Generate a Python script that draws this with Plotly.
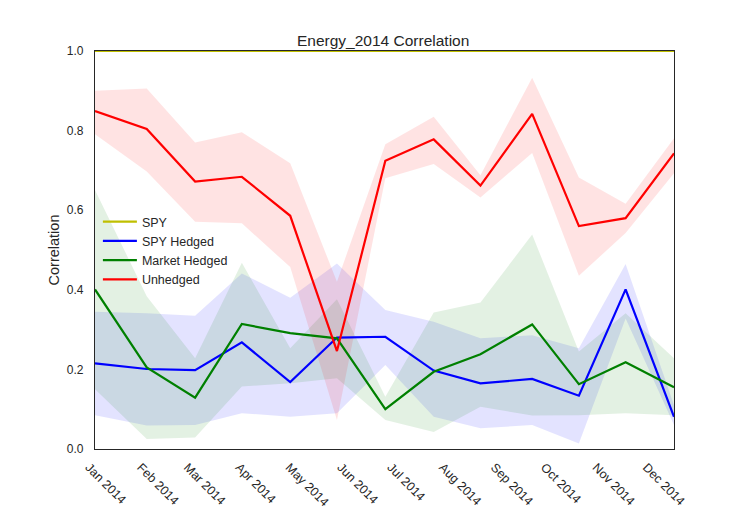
import plotly.graph_objects as go

# window end dates
dates = ['2013-12-26', '2014-01-26', '2014-02-24', '2014-03-24', '2014-04-22',
         '2014-05-20', '2014-06-18', '2014-07-17', '2014-08-14', '2014-09-14',
         '2014-10-12', '2014-11-09', '2014-12-08']

spy = [1.0, 1.0, 1.0, 1.0, 1.0, 1.0, 1.0, 1.0, 1.0, 1.0, 1.0, 1.0, 1.0]

spy_hedged = [0.215, 0.201, 0.198, 0.268, 0.168, 0.280, 0.282, 0.197, 0.165, 0.176, 0.134, 0.401, 0.081]
spy_hedged_lo = [0.085, 0.059, 0.060, 0.090, 0.081, 0.090, 0.211, 0.081, 0.052, 0.060, 0.014, 0.328, 0.060]
spy_hedged_hi = [0.345, 0.341, 0.335, 0.441, 0.380, 0.466, 0.349, 0.320, 0.278, 0.286, 0.253, 0.465, 0.110]

market_hedged = [0.401, 0.205, 0.129, 0.314, 0.291, 0.278, 0.100, 0.194, 0.238, 0.313, 0.163, 0.218, 0.155]
market_hedged_lo = [0.150, 0.025, 0.029, 0.157, 0.165, 0.178, 0.073, 0.043, 0.106, 0.084, 0.085, 0.090, 0.085]
market_hedged_hi = [0.651, 0.384, 0.228, 0.468, 0.253, 0.376, 0.131, 0.343, 0.368, 0.539, 0.245, 0.341, 0.228]

unhedged = [0.849, 0.804, 0.672, 0.684, 0.586, 0.246, 0.724, 0.778, 0.662, 0.842, 0.560, 0.580, 0.743]
unhedged_lo = [0.791, 0.697, 0.571, 0.567, 0.457, 0.073, 0.680, 0.716, 0.632, 0.744, 0.435, 0.543, 0.693]
unhedged_hi = [0.900, 0.906, 0.770, 0.796, 0.718, 0.420, 0.766, 0.835, 0.688, 0.933, 0.682, 0.616, 0.781]

series = [
    ('SPY', spy, spy, spy, (191, 191, 0)),
    ('SPY Hedged', spy_hedged, spy_hedged_lo, spy_hedged_hi, (0, 0, 255)),
    ('Market Hedged', market_hedged, market_hedged_lo, market_hedged_hi, (0, 128, 0)),
    ('Unhedged', unhedged, unhedged_lo, unhedged_hi, (255, 0, 0)),
]

TEXT = '#262626'
fig = go.Figure()

# bands first so every line sits on top
for name, _, lo, hi, rgb in series:
    fill = 'rgba(%d,%d,%d,0.11)' % rgb
    fig.add_trace(go.Scatter(x=dates, y=lo, mode='lines', line={'width': 0},
                             showlegend=False, hoverinfo='skip'))
    fig.add_trace(go.Scatter(x=dates, y=hi, mode='lines', line={'width': 0},
                             fill='tonexty', fillcolor=fill,
                             showlegend=False, hoverinfo='skip'))

for name, mid, _, _, rgb in series:
    fig.add_trace(go.Scatter(x=dates, y=mid, mode='lines', name=name,
                             line={'width': 2.2, 'color': 'rgb(%d,%d,%d)' % rgb}))

# page body adds an 8px offset, so the figure is 8px smaller than the window
fig.update_layout(
    width=740, height=506,
    paper_bgcolor='white', plot_bgcolor='white',
    margin={'l': 87, 'r': 74, 't': 43, 'b': 65},
    font={'family': 'Liberation Sans, Arial, sans-serif', 'size': 12, 'color': TEXT},
    title={'text': 'Energy_2014 Correlation', 'x': 0.507, 'xanchor': 'center',
           'y': 0.935, 'yanchor': 'middle', 'font': {'size': 15.5, 'color': TEXT}},
    showlegend=True,
    legend={'x': 0.005, 'y': 0.608, 'xanchor': 'left', 'yanchor': 'top',
            'bgcolor': 'rgba(0,0,0,0)', 'itemwidth': 34, 'traceorder': 'normal',
            'font': {'size': 12.5, 'color': TEXT}, 'tracegroupgap': 0},
    xaxis={
        'type': 'date', 'range': [dates[0], dates[-1]], 'automargin': False,
        'tick0': '2014-01-01', 'dtick': 'M1', 'tickformat': '%b %Y',
        'tickangle': 45, 'ticks': '', 'showgrid': False, 'zeroline': False,
        'showline': True, 'linecolor': TEXT, 'linewidth': 1.25, 'mirror': True,
        'ticklabelstandoff': 5, 'ticklabelshift': -16,
        'tickfont': {'size': 12.5, 'color': TEXT},
    },
    yaxis={
        'range': [0, 1], 'dtick': 0.2, 'tickformat': '.1f', 'automargin': False,
        'ticks': '', 'showgrid': False, 'zeroline': False,
        'showline': True, 'linecolor': TEXT, 'linewidth': 1.25, 'mirror': True,
        'ticklabelstandoff': 8,
        'title': {'text': 'Correlation', 'font': {'size': 14.5, 'color': TEXT}, 'standoff': 3},
        'tickfont': {'size': 12, 'color': TEXT},
    },
)

fig.write_html('out.html')
